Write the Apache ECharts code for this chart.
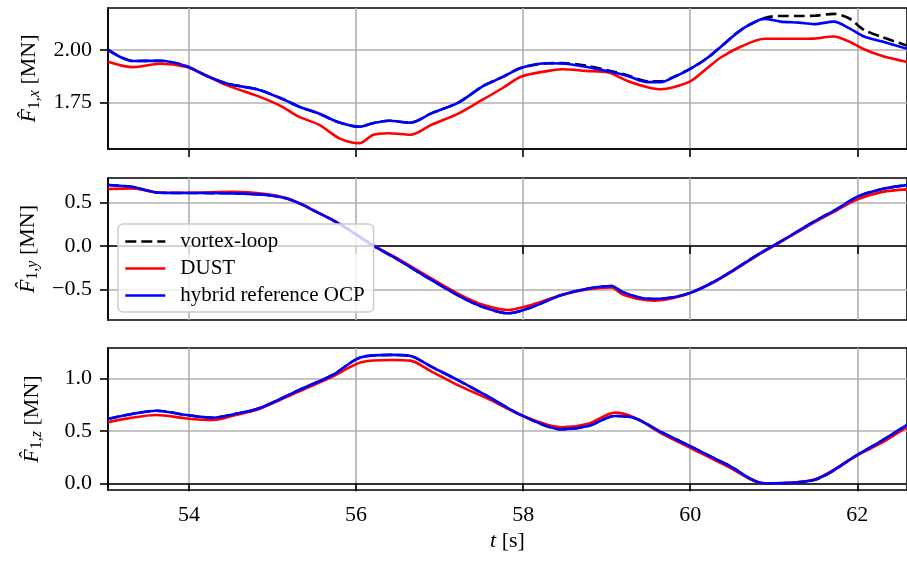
<!DOCTYPE html>
<html><head><meta charset="utf-8">
<script src="https://cdn.jsdelivr.net/npm/echarts@6/dist/echarts.min.js"></script>
<style>html,body{margin:0;padding:0;background:#fff}#c{width:907px;height:561px}</style>
</head><body><div id="c"></div>
<script>
// ---- data: F1,x (top) ----
const tX = [53.03,53.33,53.65,53.97,54.2,54.45,54.84,55.1,55.32,55.56,55.8,56.04,56.2,56.39,56.65,56.9,57.23,57.51,57.75,57.98,58.3,58.46,58.75,59.02,59.25,59.49,59.65,59.8,60.01,60.2,60.37,60.61,60.89,61.08,61.3,61.48,61.72,61.9,62.08,62.3,62.6];
const xHybrid = [2.00,1.947,1.948,1.922,1.878,1.84,1.809,1.769,1.729,1.695,1.653,1.633,1.65,1.662,1.653,1.697,1.75,1.825,1.87,1.915,1.936,1.935,1.92,1.898,1.876,1.846,1.846,1.869,1.912,1.96,2.016,2.096,2.148,2.135,2.13,2.123,2.135,2.104,2.064,2.04,2.005];
const xVortex = [2.00,1.947,1.948,1.922,1.878,1.84,1.809,1.769,1.729,1.695,1.653,1.633,1.65,1.662,1.653,1.697,1.75,1.825,1.87,1.915,1.936,1.937,1.925,1.902,1.879,1.85,1.85,1.871,1.912,1.96,2.016,2.096,2.152,2.162,2.162,2.163,2.172,2.151,2.096,2.061,2.02];
const xDust = [1.944,1.918,1.934,1.918,1.879,1.832,1.777,1.732,1.68,1.642,1.578,1.555,1.594,1.602,1.595,1.642,1.697,1.761,1.817,1.873,1.9,1.908,1.9,1.892,1.852,1.822,1.812,1.822,1.852,1.912,1.965,2.016,2.053,2.053,2.053,2.054,2.064,2.04,2.003,1.971,1.942];
// ---- data: F1,y (middle) ----
const tY = [53.03,53.33,53.65,54.0,54.52,54.92,55.16,55.35,55.52,55.72,55.92,56.19,56.51,56.85,57.23,57.51,57.82,58.10,58.46,58.8,59.06,59.18,59.4,59.57,59.8,60.01,60.25,60.49,60.8,61.08,61.48,61.75,62.0,62.3,62.6];
const yHybrid = [0.704,0.68,0.615,0.612,0.608,0.59,0.55,0.48,0.396,0.30,0.185,0.012,-0.162,-0.362,-0.575,-0.70,-0.777,-0.707,-0.565,-0.488,-0.462,-0.527,-0.596,-0.612,-0.592,-0.538,-0.43,-0.296,-0.104,0.05,0.281,0.423,0.569,0.658,0.704];
const yVortex = [0.704,0.68,0.615,0.612,0.608,0.59,0.55,0.48,0.396,0.30,0.185,0.012,-0.162,-0.362,-0.575,-0.70,-0.777,-0.707,-0.565,-0.488,-0.462,-0.527,-0.596,-0.612,-0.592,-0.538,-0.43,-0.296,-0.104,0.05,0.281,0.423,0.569,0.658,0.704];
const yDust = [0.658,0.665,0.615,0.615,0.625,0.60,0.555,0.48,0.396,0.30,0.185,0.015,-0.15,-0.345,-0.555,-0.675,-0.738,-0.68,-0.565,-0.495,-0.477,-0.554,-0.615,-0.631,-0.60,-0.538,-0.435,-0.30,-0.11,0.045,0.27,0.41,0.538,0.625,0.654];
// ---- data: F1,z (bottom) ----
const tZ = [53.03,53.3,53.61,53.97,54.29,54.55,54.84,55.32,55.72,56.06,56.43,56.65,56.9,57.23,57.6,58.0,58.46,58.78,59.1,59.34,59.65,60.01,60.45,60.89,61.48,62.0,62.3,62.6];
const zHybrid = [0.615,0.66,0.694,0.653,0.627,0.663,0.717,0.892,1.035,1.205,1.227,1.217,1.115,0.981,0.82,0.643,0.516,0.548,0.643,0.621,0.49,0.35,0.175,0.0,0.032,0.271,0.41,0.56];
const zVortex = [0.615,0.66,0.694,0.653,0.627,0.663,0.717,0.892,1.035,1.205,1.227,1.217,1.115,0.981,0.82,0.643,0.516,0.548,0.643,0.621,0.49,0.35,0.175,0.0,0.032,0.271,0.41,0.56];
const zDust = [0.583,0.625,0.653,0.62,0.605,0.65,0.71,0.88,1.02,1.157,1.179,1.172,1.07,0.933,0.80,0.643,0.535,0.57,0.675,0.625,0.48,0.335,0.16,0.0,0.035,0.268,0.39,0.54];
// ---- ticks ----
const xTicks = [54,56,58,60,62];
const yTicksTop = [1.75,2.00];
const yTicksMid = [-0.5,0,0.5];
const yTicksBot = [0,0.5,1.0];
const seriesNames = ['vortex-loop','DUST','hybrid reference OCP'];

const FONT = 'Liberation Serif';
const zip = (t, v) => t.map((x, i) => [x, v[i]]);
const fmt = (d) => (v) => (v < 0 ? '\u2212' : '') + Math.abs(v).toFixed(d);

const grids = [
  {left:108, top:8, height:141, right:-3},
  {left:108, top:178, height:142, right:-3},
  {left:108, top:348, height:142, right:-3}
].map(g => Object.assign(g, {show:true, borderColor:'#000', borderWidth:1.6, containLabel:false}));

function xAxis(i, last) {
  return {
    type:'value', gridIndex:i, min:53.03, max:62.595,
    axisLine:{show:true, lineStyle:{color:'#000', width:1.6}},
    axisTick:{show:true, length:8, lineStyle:{color:'#000', width:1.6}, customValues:xTicks},
    axisLabel:{show:last, customValues:xTicks, margin:14, color:'#000', fontFamily:FONT, fontSize:22},
    splitLine:{show:true, lineStyle:{color:'#b0b0b0', width:1.6}},
    name: last ? '{i|t} [s]' : '', nameLocation:'middle', nameGap:40,
    nameTextStyle:{color:'#000', fontFamily:FONT, fontSize:22, rich:{i:{fontStyle:'italic', fontFamily:FONT, fontSize:22}}}
  };
}
function yAxis(i, min, max, ticks, dec, sub) {
  return {
    type:'value', gridIndex:i, min:min, max:max,
    axisLine:{show:true, lineStyle:{color:'#000', width:1.6}},
    axisTick:{show:true, length:8, lineStyle:{color:'#000', width:1.6}, customValues:ticks},
    axisLabel:{customValues:ticks, formatter:fmt(dec), margin:16, color:'#000', fontFamily:FONT, fontSize:22},
    splitLine:{show:true, lineStyle:{color:'#b0b0b0', width:1.6}},
    name:'{f|F\u0302}{s|1,}{si|' + sub + '}{u| [MN]}', nameLocation:'middle', nameGap:63, nameRotate:90,
    nameTextStyle:{color:'#000', fontFamily:FONT, fontSize:22, rich:{
      f:{fontStyle:'italic', fontFamily:FONT, fontSize:22, lineHeight:26, color:'#000'},
      s:{fontFamily:FONT, fontSize:16, lineHeight:15, verticalAlign:'bottom', color:'#000'},
      si:{fontStyle:'italic', fontFamily:FONT, fontSize:16, lineHeight:15, verticalAlign:'bottom', color:'#000'},
      u:{fontFamily:FONT, fontSize:22, lineHeight:26, color:'#000'}
    }}
  };
}
function mk(name, i, t, v) {
  const style = {
    'vortex-loop':{color:'#000', type:[11,5]},
    'DUST':{color:'#ff0000', type:'solid'},
    'hybrid reference OCP':{color:'#0000ff', type:'solid'}
  }[name];
  return {
    name:name, type:'line', xAxisIndex:i, yAxisIndex:i, data:zip(t, v),
    symbol:'none', smooth:0.3, clip:true,
    lineStyle:{color:style.color, width:2.6, type:style.type},
    itemStyle:{color:style.color}
  };
}

const option = {
  animation:false,
  backgroundColor:'#fff',
  grid:grids,
  xAxis:[xAxis(0,false), xAxis(1,false), xAxis(2,true)],
  yAxis:[
    yAxis(0, 1.527, 2.20, yTicksTop, 2, 'x'),
    yAxis(1, -0.854, 0.785, yTicksMid, 1, 'y'),
    yAxis(2, -0.064, 1.293, yTicksBot, 1, 'z')
  ],
  legend:{
    data:seriesNames, orient:'vertical', left:118, top:224,
    itemWidth:40, itemHeight:14, itemGap:6,
    padding:[7,9,6,6],
    backgroundColor:'rgba(255,255,255,0.8)', borderColor:'#cccccc', borderWidth:1.5, borderRadius:5,
    itemStyle:{opacity:0},
    lineStyle:{width:2.6},
    textStyle:{color:'#000', fontFamily:FONT, fontSize:21, lineHeight:20, padding:[0,0,0,10]},
    z:10
  },
  series:[
    mk('vortex-loop',0,tX,xVortex), mk('DUST',0,tX,xDust), mk('hybrid reference OCP',0,tX,xHybrid),
    mk('vortex-loop',1,tY,yVortex), mk('DUST',1,tY,yDust), mk('hybrid reference OCP',1,tY,yHybrid),
    mk('vortex-loop',2,tZ,zVortex), mk('DUST',2,tZ,zDust), mk('hybrid reference OCP',2,tZ,zHybrid)
  ]
};
const chart = echarts.init(document.getElementById('c'), null, {renderer:'canvas'});
chart.setOption(option);
</script></body></html>
